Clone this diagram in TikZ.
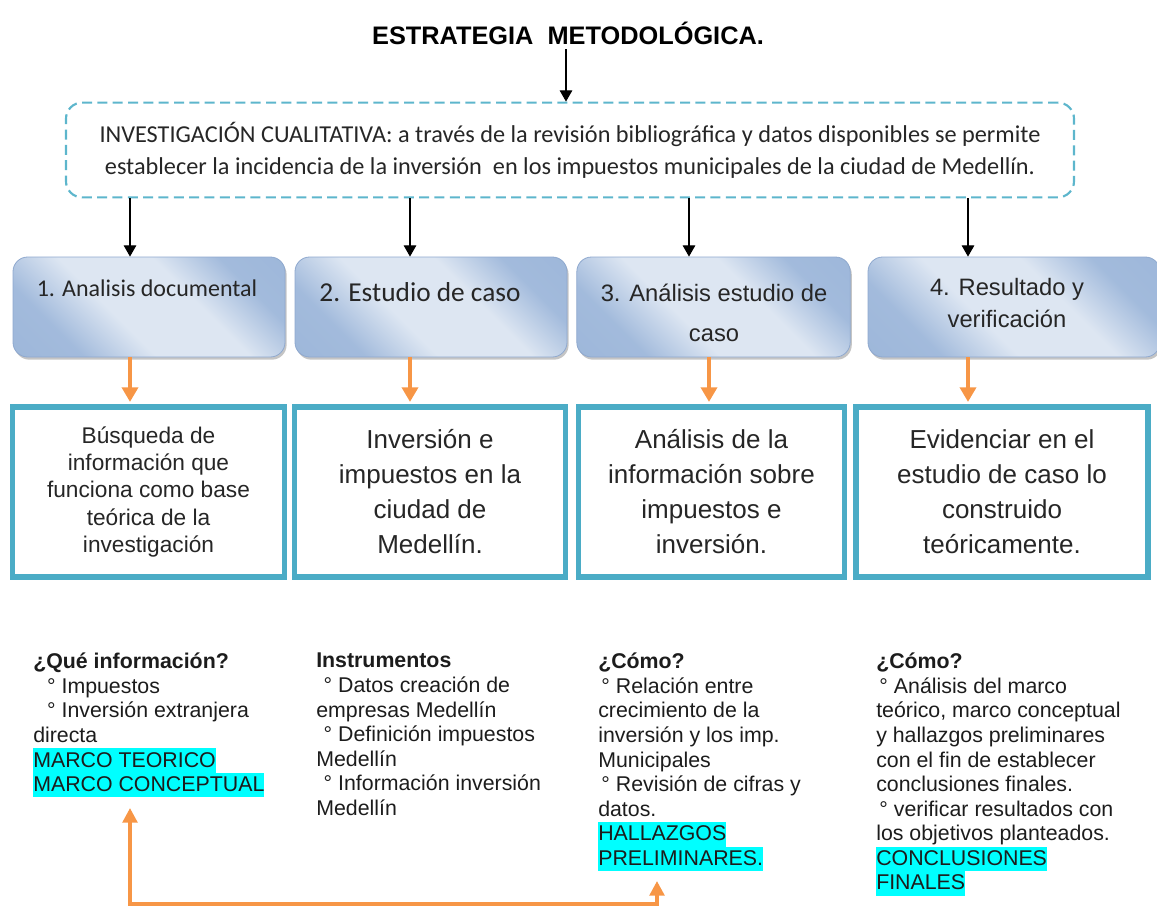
\documentclass[tikz,border=0pt]{standalone}
\usepackage{fontspec}
\setmainfont{Liberation Sans}
\newfontfamily\calfont{Carlito}
\usetikzlibrary{arrows.meta,shadows}
\definecolor{tealB}{HTML}{4BACC6}
\definecolor{dashB}{HTML}{5DB6CC}
\definecolor{orgA}{HTML}{F79646}
\definecolor{hdrIn}{HTML}{DDE6F2}
\definecolor{hdrOut}{HTML}{98B3D8}
\definecolor{hdrLine}{HTML}{8EA8CE}
\definecolor{hlc}{HTML}{00FFFF}
\definecolor{txt}{HTML}{1C1C1C}
\pgfdeclarehorizontalshading{hdrsh}{100bp}{color(0bp)=(hdrOut); color(28bp)=(hdrOut!85!hdrIn); color(42bp)=(hdrIn); color(60bp)=(hdrIn); color(73bp)=(hdrOut!85!hdrIn); color(100bp)=(hdrOut)}
\setlength{\fboxsep}{0pt}
\newcommand\hl[1]{\colorbox{hlc}{\rule[-4.4pt]{0pt}{18.4pt}#1}}
\begin{document}
\begin{tikzpicture}[x=0.75pt,y=-0.75pt,
  hdr/.style={draw=hdrLine,line width=0.6pt,rounded corners=11pt,shading=hdrsh,shading angle=45,
    drop shadow={shadow xshift=1.2pt,shadow yshift=-2pt,fill=black!45,opacity=0.5},minimum height=75pt},
  hdrtxt/.style={inner sep=0pt,align=center,text=black!85},
  content/.style={draw=tealB,line width=3.8pt,fill=white,minimum height=127.5pt,align=center,inner sep=0pt,
    font=\fontsize{19.5}{26.25}\selectfont,text=black!85},
  blk/.style={draw=black,line width=0.9pt,-{Triangle[width=9.5pt,length=8.5pt]}},
  org/.style={draw=orgA,line width=3pt,-{Triangle[width=12pt,length=11pt]}},
  orgc/.style={draw=orgA,line width=2.6pt,{Triangle[width=11pt,length=11pt]}-{Triangle[width=11pt,length=11pt]}},
  col/.style={anchor=north west,inner sep=0pt,align=left,text=txt,font=\fontsize{16}{18.4}\selectfont}
]
\useasboundingbox (0,0) rectangle (1157,907);

% title
\node[font=\bfseries\fontsize{19}{22}\selectfont] (title) at (568,33) {ESTRATEGIA\ \ METODOLÓGICA.};

% dashed box
\node[draw=dashB,line width=1.6pt,dash pattern=on 7.5pt off 4pt,rounded corners=12pt,
  minimum width=756pt,minimum height=71pt,align=center,inner sep=0pt,
  font=\calfont\fontsize{18.2}{24}\selectfont,text=black!85] (dq) at (570,150)
  {INVESTIGACIÓN CUALITATIVA: a través de la revisión bibliográfica y datos disponibles se permite\\
   establecer la incidencia de la inversión\ \ en los impuestos municipales de la ciudad de Medellín.};

% header boxes
\node[hdr,minimum width=204pt] (h1) at (149,307) {};
\node[hdr,minimum width=204pt] (h2) at (431,307) {};
\node[hdr,minimum width=205pt] (h3) at (713.5,307) {};
\node[hdr,minimum width=219pt] (h4) at (1014,307) {};
\node[hdrtxt,font=\calfont\fontsize{18}{22}\selectfont] (t1) at (147,288) {1. Analisis documental};
\node[hdrtxt,font=\calfont\fontsize{20.5}{24}\selectfont] (t2) at (420,292) {2. Estudio de caso};
\node[hdrtxt,font=\fontsize{17.8}{29.5}\selectfont] (t3) at (714,313) {3. Análisis estudio de\\caso};
\node[hdrtxt,font=\fontsize{17.8}{23.5}\selectfont] (t4) at (1007,303) {4. Resultado y\\verificación};

% content boxes
\node[content,minimum width=204pt,font=\fontsize{17}{20.4}\selectfont] (b1) at (148.5,492)
  {Búsqueda de\\información que\\funciona como base\\teórica de la\\investigación};
\node[content,minimum width=203pt] (b2) at (430,492) {Inversión e\\impuestos en la\\ciudad de\\Medellín.};
\node[content,minimum width=200pt] (b3) at (711.5,492) {Análisis de la\\información sobre\\impuestos e\\inversión.};
\node[content,minimum width=219pt] (b4) at (1002,492) {Evidenciar en el\\estudio de caso lo\\construido\\teóricamente.};

% arrow x positions
\coordinate (cT) at (566,0);
\coordinate (c1) at (130,0);
\coordinate (c2) at (410,0);
\coordinate (c3) at (689,0);
\coordinate (c4) at (968,0);
\coordinate (o3) at (709,0);

\draw[blk] (title.south -| cT) -- (dq.north -| cT);
\draw[blk] (dq.south -| c1) -- (h1.north -| c1);
\draw[blk] (dq.south -| c2) -- (h2.north -| c2);
\draw[blk] (dq.south -| c3) -- (h3.north -| c3);
\draw[blk] (dq.south -| c4) -- (h4.north -| c4);

\draw[org] (h1.south -| c1) -- ([yshift=1.9pt]b1.north -| c1);
\draw[org] (h2.south -| c2) -- ([yshift=1.9pt]b2.north -| c2);
\draw[org] (h3.south -| o3) -- ([yshift=1.9pt]b3.north -| o3);
\draw[org] (h4.south -| c4) -- ([yshift=1.9pt]b4.north -| c4);

% bottom columns
\node[col] (q1) at (33,653) {\textbf{¿Qué información?}\\
\hspace*{0.65em}° Impuestos\\
\hspace*{0.65em}° Inversión extranjera\\
directa\\
\hl{MARCO TEORICO}\\
\hl{MARCO CONCEPTUAL}};
\node[col] (q2) at (316,653) {\textbf{Instrumentos}\\
\hspace*{0.35em}° Datos creación de\\
empresas Medellín\\
\hspace*{0.35em}° Definición impuestos\\
Medellín\\
\hspace*{0.35em}° Información inversión\\
Medellín};
\node[col] (q3) at (598,653) {\textbf{¿Cómo?}\\
\hspace*{0.15em}° Relación entre\\
crecimiento de la\\
inversión y los imp.\\
Municipales\\
\hspace*{0.15em}° Revisión de cifras y\\
datos.\\
\hl{HALLAZGOS}\\
\hl{PRELIMINARES.}};
\node[col] (q4) at (876,653) {\textbf{¿Cómo?}\\
\hspace*{0.15em}° Análisis del marco\\
teórico, marco conceptual\\
y hallazgos preliminares\\
con el fin de establecer\\
conclusiones finales.\\
\hspace*{0.15em}° verificar resultados con\\
los objetivos planteados.\\
\hl{CONCLUSIONES}\\
\hl{FINALES}};

% orange connector
\coordinate (lt) at (130,808);
\coordinate (rt) at (657,881);
\coordinate (bt) at (0,904);
\draw[orgc] (lt) -- (lt |- bt) -- (rt |- bt) -- (rt);
\end{tikzpicture}
\end{document}
